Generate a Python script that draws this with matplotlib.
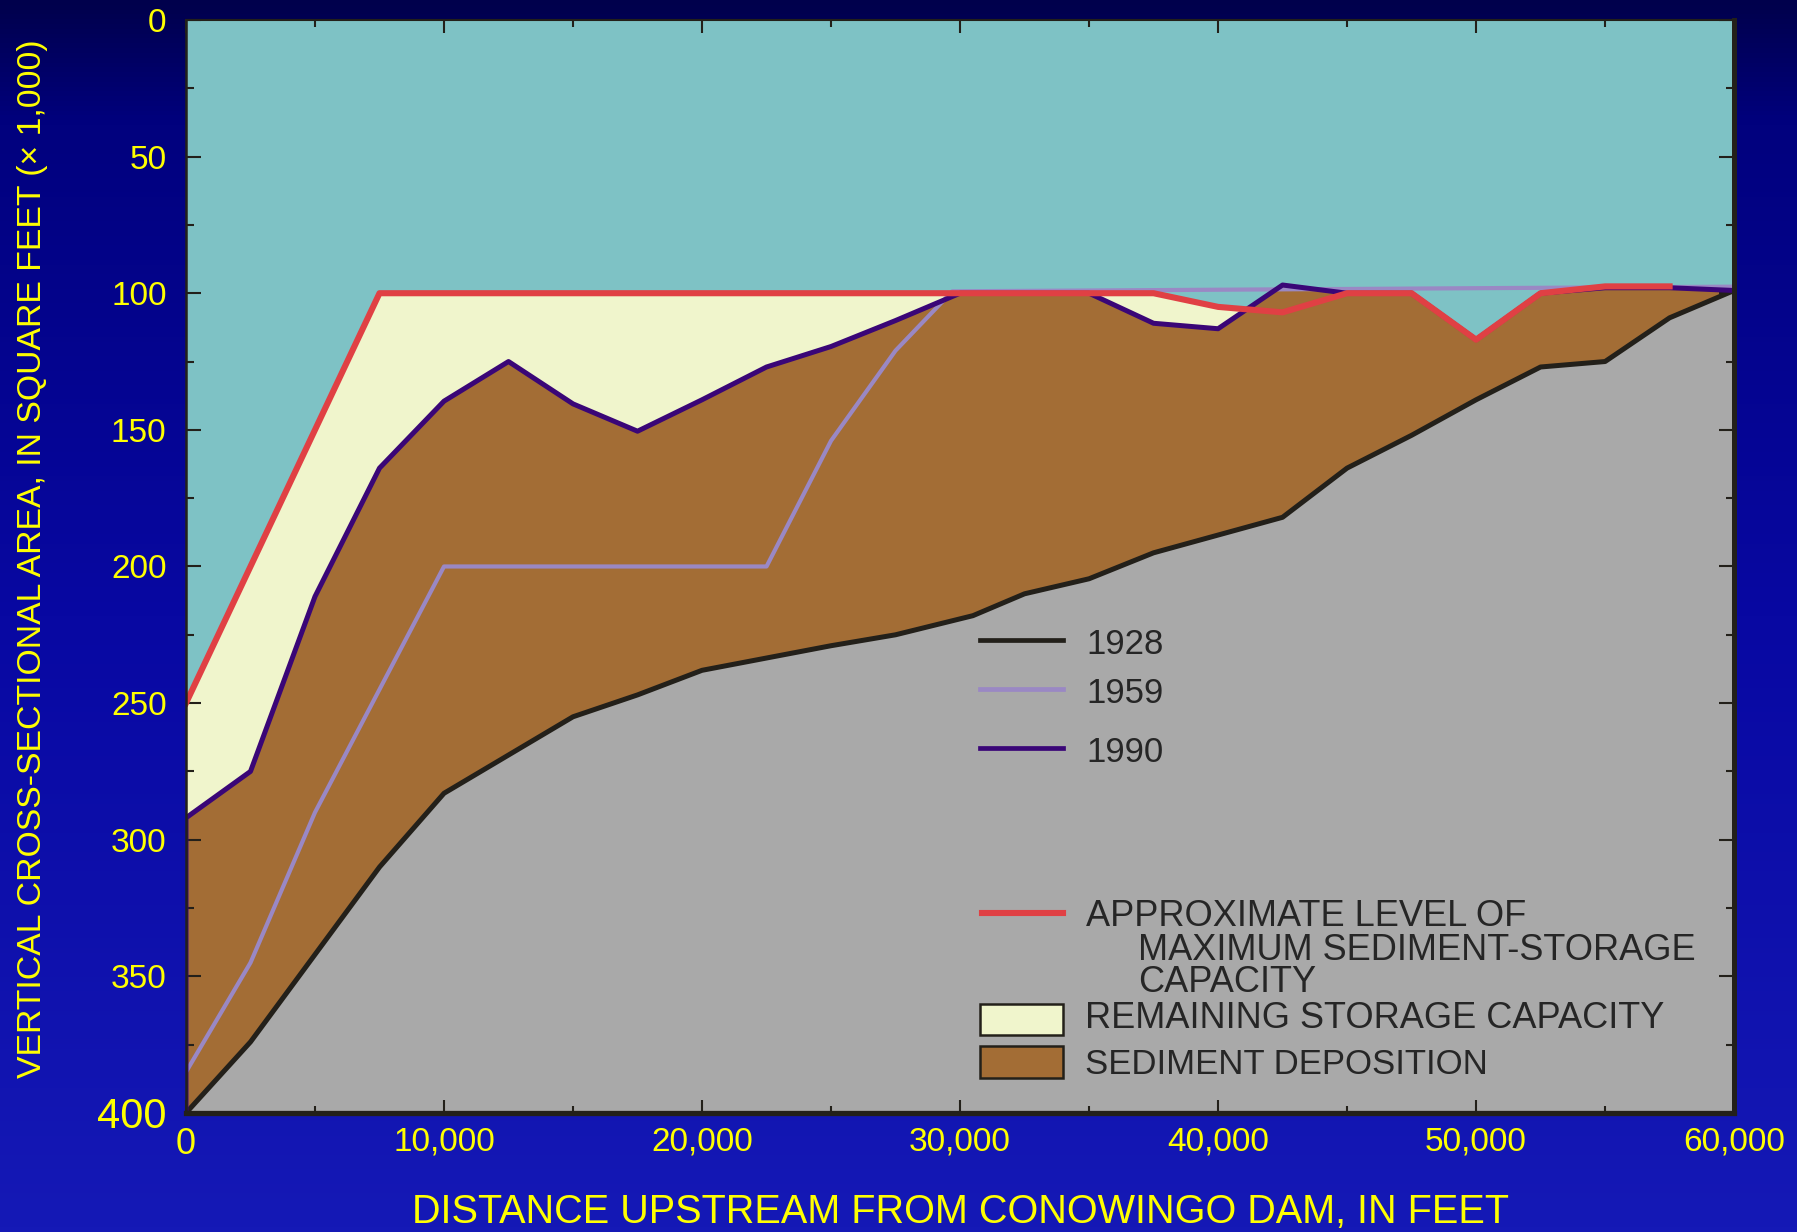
import numpy as np
import matplotlib.pyplot as plt
from matplotlib.colors import LinearSegmentedColormap
from matplotlib.patches import Rectangle

# survey stations (feet upstream from the dam) and cross-sectional area (x 1,000 sq ft)
x_1928 = [0, 2500, 5000, 7500, 10000, 12500, 15000, 17500, 20000, 22500, 25000, 27500,
          30500, 32500, 35000, 37500, 40000, 42500, 45000, 47500, 50000, 52500, 55000,
          57500, 60000]
area_1928 = [400, 374, 342, 310, 283, 269, 255, 247, 238, 233.5, 229, 225,
             218, 210, 204.5, 195, 188.5, 182, 164, 152, 139, 127, 125, 109, 99]

x_1959 = [0, 2500, 5000, 10000, 22500, 25000, 27500, 29700, 60000]
area_1959 = [385, 345, 290, 200, 200, 154, 121, 99.3, 97.6]

x_1990 = [0, 2500, 5000, 7500, 10000, 12500, 15000, 17500, 20000, 22500, 25000, 27500,
          30000, 32500, 35000, 37500, 40000, 42500, 45000, 47500, 50000, 52500, 55000,
          57500, 60000]
area_1990 = [292, 275, 211, 164, 139.5, 125, 140.5, 150.5, 139, 127, 119.5, 110,
             100, 100, 100, 111, 113, 97, 100, 100, 117, 100, 98, 98, 99]

# approximate level of maximum sediment-storage capacity
x_max = [0, 7500, 35000, 37500, 40000, 42500, 45000, 47500, 50000, 52500, 55000, 57500]
level_max = [250, 100, 100, 100, 105, 107, 100, 100, 117, 100, 97.5, 97.5]

x_ticks = [0, 10000, 20000, 30000, 40000, 50000, 60000]
y_ticks = [0, 50, 100, 150, 200, 250, 300, 350, 400]

TEAL = '#7ec2c5'
CREAM = '#f0f5cc'
BROWN = '#a36d35'
GRAY = '#a9a9a9'
RED = '#e04044'
DARK = '#3a0677'
LILAC = '#9a88c4'
INK = '#23201a'
YELLOW = '#ffff00'

plt.rcParams['font.family'] = ['Liberation Sans', 'DejaVu Sans']

fig = plt.figure(figsize=(17.97, 12.32), dpi=100)

# blue gradient backdrop
bg = fig.add_axes([0, 0, 1, 1], zorder=-10)
cmap = LinearSegmentedColormap.from_list(
    'backdrop', [(0, '#00004c'), (0.1, '#01017e'), (0.5, '#0808a2'), (1, '#1519b6')])
bg.imshow(np.linspace(0, 1, 256).reshape(-1, 1), aspect='auto', cmap=cmap,
          extent=[0, 1, 1, 0])
bg.set_axis_off()

ax = fig.add_axes([0.1035, 0.0966, 0.8615, 0.8872])
ax.set_facecolor(TEAL)
ax.set_xlim(0, 60000)
ax.set_ylim(400, 0)

xs = np.linspace(0, 60000, 4801)
y28 = np.interp(xs, x_1928, area_1928)
y90 = np.interp(xs, x_1990, area_1990)
ymax = np.interp(xs, x_max, level_max)

ax.fill_between(xs, y28, 400, color=GRAY, lw=0, zorder=1)
ax.fill_between(xs, y90, y28, color=BROWN, lw=0, zorder=1)
ax.fill_between(xs, ymax, y90, where=ymax < y90, interpolate=True,
                color=CREAM, lw=0, zorder=1)

ax.plot(x_1928, area_1928, color=INK, lw=3.6, zorder=3)
ax.plot(x_1959, area_1959, color=LILAC, lw=3.0, zorder=3)
ax.plot([0] + x_1990, [area_1928[0]] + area_1990, color=DARK, lw=3.6, zorder=4)
ax.plot(x_max, level_max, color=RED, lw=4.4, zorder=5)

# axes styling
ax.set_xticks(x_ticks)
ax.set_xticklabels([f'{v:,}' for v in x_ticks])
ax.set_xticks(range(5000, 60000, 10000), minor=True)
ax.set_yticks(y_ticks)
ax.set_yticklabels([str(v) for v in y_ticks])
ax.set_yticks(range(25, 400, 50), minor=True)
ax.tick_params(which='both', direction='in', top=True, right=True,
               color=INK, labelcolor=YELLOW, width=1.5)
ax.tick_params(axis='y', which='major', length=11, pad=14, labelsize=24)
ax.tick_params(axis='y', which='minor', length=6)
ax.tick_params(axis='x', which='major', length=9.5, pad=10, labelsize=24)
ax.tick_params(axis='x', which='minor', length=5)
ax.get_yticklabels()[-1].set_fontsize(30)
ax.get_xticklabels()[0].set_fontsize(26)
for side, lw in [('bottom', 3.8), ('right', 3.6), ('left', 1.8), ('top', 1.5)]:
    ax.spines[side].set_color(INK)
    ax.spines[side].set_linewidth(lw)
    ax.spines[side].set_zorder(6)

fig.text(0.5345, 0.016, 'DISTANCE UPSTREAM FROM CONOWINGO DAM, IN FEET',
         color=YELLOW, fontsize=28.5, ha='center', va='center')
ylab = fig.text(0.018, 0.5467, 'VERTICAL CROSS-SECTIONAL AREA, IN SQUARE FEET (\u00d7 1,000)',
                color=YELLOW, fontsize=28, ha='center', va='center', rotation=90)
# shrink the long axis title so it runs the height of the plot
fig.canvas.draw()
span = ylab.get_window_extent().height
ylab.set_fontsize(28 * 1037 / span)

# key
tx = ax.transAxes
text_kw = dict(transform=tx, color='#262626', va='center', zorder=7)
for y, color, label in [(0.433, INK, '1928'), (0.388, LILAC, '1959'), (0.334, DARK, '1990')]:
    ax.plot([0.513, 0.5665], [y, y], color=color, lw=3.4, transform=tx, zorder=7)
    ax.text(0.5815, y - 0.004, label, fontsize=25, **text_kw)

ax.plot([0.5145, 0.5665], [0.183, 0.183], color=RED, lw=4.4, transform=tx, zorder=7)
ax.text(0.5815, 0.180, 'APPROXIMATE LEVEL OF', fontsize=26, **text_kw)
ax.text(0.615, 0.149, 'MAXIMUM SEDIMENT-STORAGE', fontsize=26, **text_kw)
ax.text(0.615, 0.119, 'CAPACITY', fontsize=26, **text_kw)

ax.add_patch(Rectangle((0.513, 0.0714), 0.0535, 0.0283, facecolor=CREAM,
                       edgecolor=INK, lw=1.8, transform=tx, zorder=7))
ax.text(0.5805, 0.086, 'REMAINING STORAGE CAPACITY', fontsize=26, **text_kw)
ax.add_patch(Rectangle((0.513, 0.032), 0.0535, 0.0293, facecolor=BROWN,
                       edgecolor=INK, lw=1.8, transform=tx, zorder=7))
ax.text(0.5805, 0.044, 'SEDIMENT DEPOSITION', fontsize=25, **text_kw)

fig.savefig('out.png', dpi=100)
